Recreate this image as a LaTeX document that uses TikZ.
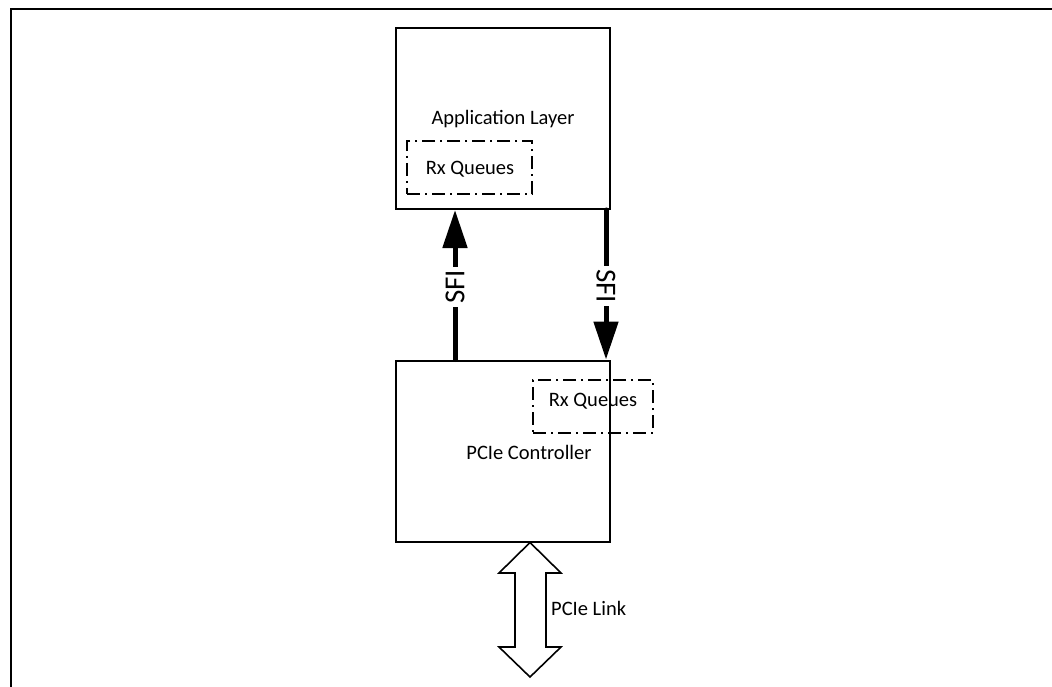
\documentclass[tikz,border=0pt]{standalone}
\usepackage{fontspec}
\setmainfont{Carlito}
\usetikzlibrary{arrows.meta}
\begin{document}
\begin{tikzpicture}[x=1pt,y=-1pt,
  box/.style={draw,line width=2pt,minimum width=214pt,minimum height=181pt,inner sep=0pt},
  qbox/.style={draw,line width=2.5pt,dash pattern=on 13pt off 5pt on 2pt off 5pt,inner sep=0pt},
  lbl/.style={font=\fontsize{20.5}{24}\selectfont,inner sep=0pt,anchor=base},
  sfi/.style={line width=5pt,line cap=round,-{Triangle[length=38pt,width=24pt]}},
  sfilbl/.style={font=\fontsize{29}{32}\selectfont,fill=white,inner xsep=3pt,inner ysep=0pt},
  link/.style={draw,line width=1.6pt,line join=miter}]
\useasboundingbox (0,0) rectangle (1052,687);
% outer frame
\draw[line width=2pt] (10.5,687) -- (10.5,9.5) -- (1052,9.5);
% boxes
\node[box] (app) at (503,118.5) {};
\node[lbl] (apptext) at (503,125) {Application Layer};
\node[qbox,minimum width=125pt,minimum height=53pt] (rq1) at (469.5,167.5) {};
\node[lbl] (rq1text) at (470,175) {Rx Queues};
\node[box] (ctrl) at (503,451) {};
\node[lbl] (ctrltext) at (529,459) {PCIe Controller};
\node[qbox,minimum width=120pt,minimum height=53pt] (rq2) at (593,406.5) {};
\node[lbl] (rq2text) at (593,406) {Rx Queues};
% SFI arrows
\coordinate (lx) at (455,0);
\coordinate (rx) at (606,0);
\draw[sfi] (ctrl.north -| lx) -- (app.south -| lx);
\draw[sfi] (app.south -| rx) -- (ctrl.north -| rx);
\node[sfilbl,rotate=90] (sfi1) at (455,287) {SFI};
\node[sfilbl,rotate=-90] (sfi2) at (606,286) {SFI};
% PCIe link double arrow
\draw[link] (ctrl.south -| 530,0) -- (499,573) -- (515,573) -- (515,647) -- (499,647) -- (530,677) -- (561,647) -- (546,647) -- (546,573) -- (561,573) -- cycle;
\node[lbl,anchor=base west] (linktext) at (551,615) {PCIe Link};
\end{tikzpicture}
\end{document}
